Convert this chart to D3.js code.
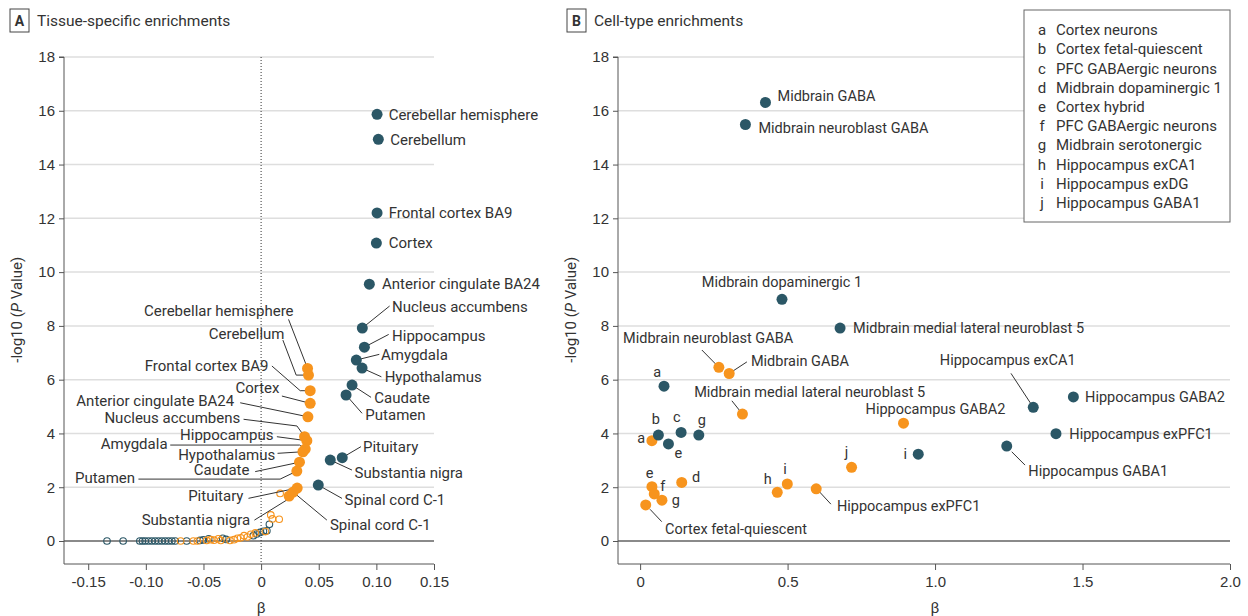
<!DOCTYPE html>
<html>
<head>
<meta charset="utf-8">
<script src="https://cdn.jsdelivr.net/npm/d3@7"></script>
<style>
	body { margin: 0; background: #fff; }
	svg { font-family: Roboto, "Noto Sans", sans-serif; }
	text { fill: #333; }
</style>
</head>
<body>
<svg id="chart" width="1248" height="616"></svg>
<script>
// ---- data ----
const yTicks = [0, 2, 4, 6, 8, 10, 12, 14, 16, 18];
const xTicksA = [-0.15, -0.10, -0.05, 0, 0.05, 0.10, 0.15];
const xTicksB = [0, 0.5, 1.0, 1.5, 2.0];

const tissueNames = ["Cerebellar hemisphere", "Cerebellum", "Frontal cortex BA9", "Cortex",
	"Anterior cingulate BA24", "Nucleus accumbens", "Hippocampus", "Amygdala", "Hypothalamus",
	"Caudate", "Putamen", "Pituitary", "Substantia nigra", "Spinal cord C-1"];
const tissueBetaDark = [0.1006, 0.1017, 0.1006, 0.1000, 0.0939, 0.0878, 0.0896, 0.0826, 0.0876, 0.0789, 0.0737, 0.0704, 0.0600, 0.0496];
const tissueLogPDark = [15.87, 14.94, 12.20, 11.08, 9.55, 7.92, 7.21, 6.73, 6.43, 5.80, 5.43, 3.10, 3.01, 2.08];
const tissueBetaOrange = [0.0403, 0.0411, 0.0426, 0.0426, 0.0406, 0.0377, 0.0397, 0.0383, 0.0363, 0.0333, 0.0310, 0.0313, 0.0243, 0.0278];
const tissueLogPOrange = [6.42, 6.17, 5.59, 5.12, 4.62, 3.88, 3.73, 3.42, 3.32, 2.93, 2.60, 1.97, 1.67, 1.82];

// non-significant tissues (open circles)
const openBetaDark = [-0.1337, -0.1197, -0.1052, -0.1029, -0.1006, -0.0977, -0.0948, -0.0919, -0.0890, -0.0861, -0.0832, -0.0803, -0.0774, -0.0745, -0.0646, -0.0530, -0.0501, -0.0455, -0.0333, -0.0304, -0.0067, -0.0038, -0.0009, 0.0020, 0.0050, 0.0072];
const openLogPDark = [0, 0, 0, 0, 0, 0, 0, 0, 0, 0, 0, 0, 0, 0, 0, 0.02, 0.04, 0.08, 0.10, 0.06, 0.20, 0.26, 0.32, 0.36, 0.38, 0.62];
const openBetaOrange = [-0.0698, -0.0588, -0.0553, -0.0472, -0.0437, -0.0409, -0.0371, -0.0350, -0.0270, -0.0235, -0.0206, -0.0177, -0.0148, -0.0119, -0.0090, -0.0050, 0.0037, 0.0084, 0.0098, 0.0157, 0.0165];
const openLogPOrange = [0, 0, 0, 0.02, 0.05, 0.03, 0.08, 0.02, 0.02, 0.05, 0.10, 0.12, 0.20, 0.15, 0.25, 0.30, 0.35, 0.97, 0.82, 0.81, 1.77];

const cellNamesDark = ["Midbrain GABA", "Midbrain neuroblast GABA", "Midbrain dopaminergic 1",
	"Midbrain medial lateral neuroblast 5", "a", "b", "c", "e", "g", "i",
	"Hippocampus exCA1", "Hippocampus GABA2", "Hippocampus exPFC1", "Hippocampus GABA1"];
const cellBetaDark = [0.425, 0.357, 0.481, 0.678, 0.081, 0.062, 0.139, 0.096, 0.199, 0.943, 1.333, 1.469, 1.410, 1.243];
const cellLogPDark = [16.31, 15.49, 8.99, 7.92, 5.76, 3.94, 4.04, 3.61, 3.94, 3.23, 4.97, 5.36, 3.99, 3.53];

const cellNamesOrange = ["Midbrain neuroblast GABA", "Midbrain GABA", "Midbrain medial lateral neuroblast 5",
	"Hippocampus GABA2", "a", "e", "f", "g", "d", "Cortex fetal-quiescent", "h", "i", "j", "Hippocampus exPFC1"];
const cellBetaOrange = [0.267, 0.302, 0.347, 0.893, 0.040, 0.040, 0.048, 0.074, 0.141, 0.019, 0.465, 0.499, 0.717, 0.597];
const cellLogPOrange = [6.46, 6.23, 4.72, 4.38, 3.73, 2.02, 1.75, 1.52, 2.18, 1.34, 1.81, 2.12, 2.74, 1.94];

const legendLetters = ["a", "b", "c", "d", "e", "f", "g", "h", "i", "j"];
const legendNames = ["Cortex neurons", "Cortex fetal-quiescent", "PFC GABAergic neurons",
	"Midbrain dopaminergic 1", "Cortex hybrid", "PFC GABAergic neurons", "Midbrain serotonergic",
	"Hippocampus exCA1", "Hippocampus exDG", "Hippocampus GABA1"];

// ---- label placement (pixel offsets from the point) ----
const layoutADark = [
	{ dx: 11.6, dy: 0, a: "start" }, { dx: 12, dy: 0, a: "start" }, { dx: 11.6, dy: 0, a: "start" },
	{ dx: 12.3, dy: 0, a: "start" }, { dx: 12.7, dy: 0, a: "start" },
	{ dx: 29.7, dy: -21.3, a: "start", l: [[0, 0], [27.3, -22]] },
	{ dx: 27.7, dy: -11, a: "start", l: [[0, 0], [24.3, -12.7]] },
	{ dx: 24.7, dy: -5, a: "start", l: [[0, 0], [23, -5.7]] },
	{ dx: 22.6, dy: 8.7, a: "start", l: [[0, 0], [19.3, 8.7]] },
	{ dx: 22.3, dy: 12.3, a: "start", l: [[0, 0], [19, 12.3]] },
	{ dx: 19.3, dy: 20, a: "start", l: [[0, 0], [16, 18.3]] },
	{ dx: 20.7, dy: -11, a: "start", l: [[0, 0], [18.7, -11]] },
	{ dx: 24.3, dy: 12.7, a: "start", l: [[0, 0], [21.7, 10]] },
	{ dx: 26.3, dy: 15, a: "start", l: [[0, 0], [23.7, 13.3]] }
];
const layoutAOrange = [
	{ dx: -14, dy: -57.6, a: "end", l: [[-19, -49], [0, 0]] },
	{ dx: -24, dy: -41.7, a: "end", l: [[-25.6, -35], [-12.3, 0], [0, 0]] },
	{ dx: -41.7, dy: -24.7, a: "end", l: [[-38.3, -24.7], [-10, 0], [0, 0]] },
	{ dx: -30.7, dy: -15.6, a: "end", l: [[-28.3, -7.3], [0, 0]] },
	{ dx: -73.7, dy: -15.7, a: "end", l: [[-67.7, -14], [0, 0]] },
	{ dx: -64.3, dy: -19, a: "end", l: [[-61, -17.4], [-7.6, -10.7], [0, 0]] },
	{ dx: -33.4, dy: -5.7, a: "end", l: [[-30, -4], [0, 0]] },
	{ dx: -137.7, dy: -5.7, a: "end", l: [[-135, -4], [-5.7, -4], [0, 0]] },
	{ dx: -27.7, dy: 2.6, a: "end", l: [[-25.4, 1.6], [0, 0]] },
	{ dx: -50, dy: 8, a: "end", l: [[-44.3, 9.4], [0, 0]] },
	{ dx: -161.7, dy: 6.3, a: "end", l: [[-158.4, 8], [-16.7, 8], [0, 0]] },
	{ dx: -53.7, dy: 8, a: "end", l: [[-48.7, 10.3], [0, 0]] },
	{ dx: -39, dy: 24, a: "end", l: [[-34.7, 24], [4, 0]] },
	{ dx: 36.8, dy: 32.3, a: "start", l: [[33.7, 28], [0, 0]] }
];
const layoutBDark = [
	{ dx: 12, dy: -6.6, a: "start" }, { dx: 13, dy: 3.4, a: "start" },
	{ dx: 0, dy: -17, a: "middle" }, { dx: 13, dy: 0, a: "start" },
	{ dx: -6.7, dy: -14.3, a: "middle" }, { dx: -2.6, dy: -15.7, a: "middle" },
	{ dx: -4.3, dy: -15, a: "middle" }, { dx: 10, dy: 9.3, a: "middle" },
	{ dx: 3, dy: -15, a: "middle" }, { dx: -13, dy: 0, a: "middle" },
	{ dx: -25.6, dy: -47.3, a: "middle", l: [[-22.3, -34], [0, 0]] },
	{ dx: 11.7, dy: 0, a: "start" }, { dx: 13.3, dy: 0, a: "start" },
	{ dx: 21.6, dy: 24.7, a: "start", l: [[5, 5.7], [18.3, 19]] }
];
const layoutBOrange = [
	{ dx: -10.7, dy: -29.3, a: "middle", l: [[-17, -17.3], [0, 0]] },
	{ dx: 21.7, dy: -12.6, a: "start", l: [[0, 0], [17.7, -11.6]] },
	{ dx: -48.3, dy: -21.7, a: "start", l: [[-10.6, -13.3], [0, 0]] },
	{ dx: 32, dy: -14, a: "middle" },
	{ dx: -10.7, dy: -2.4, a: "middle" }, { dx: -2.4, dy: -13.4, a: "middle" },
	{ dx: 8.4, dy: -8.3, a: "middle" }, { dx: 14, dy: 0, a: "middle" },
	{ dx: 14.3, dy: -5.6, a: "middle" },
	{ dx: 19.3, dy: 24, a: "start", l: [[4.3, 4.3], [16, 16.7]] },
	{ dx: -9.6, dy: -13, a: "middle" }, { dx: -2.3, dy: -14.7, a: "middle" },
	{ dx: -5, dy: -15.6, a: "middle" },
	{ dx: 20.7, dy: 17, a: "start", l: [[3.3, 3], [14.7, 15.3]] }
];

const dark = "#2b5766";
const orange = "#f7941d";
const fontSize = 15;

const svg = d3.select("#chart");
const y = d3.scaleLinear().domain([-0.855, 18]).range([564, 57]);

function zip(names, xs, ys, layout) {
	return xs.map((b, i) => ({ name: names ? names[i] : null, beta: b, p: ys[i], lay: layout ? layout[i] : null }));
}

function drawPanel(opts) {
	const x = opts.x;
	const [x0, x1] = x.range();
	const g = svg.append("g");

	// panel title
	g.append("rect").attr("x", opts.boxX).attr("y", 9).attr("width", 19).attr("height", 23)
		.attr("fill", "none").attr("stroke", "#444").attr("stroke-width", 1);
	g.append("text").attr("x", opts.boxX + 9.5).attr("y", 26).attr("text-anchor", "middle")
		.attr("font-size", 14).attr("font-weight", "bold").text(opts.letter);
	g.append("text").attr("x", opts.boxX + 27).attr("y", 26).attr("font-size", 15.5).text(opts.title);

	// grid
	g.selectAll(".grid").data(yTicks.filter(d => d !== 0)).join("line")
		.attr("x1", x0).attr("x2", x1).attr("y1", d => y(d)).attr("y2", d => y(d))
		.attr("stroke", "#dedede").attr("stroke-width", 1.5);
	g.append("line").attr("x1", x0).attr("x2", x1).attr("y1", y(0)).attr("y2", y(0))
		.attr("stroke", "#8a8a8a").attr("stroke-width", 2);

	if (opts.zeroLine) {
		g.append("line").attr("x1", x(0)).attr("x2", x(0)).attr("y1", y(18)).attr("y2", y.range()[0])
			.attr("stroke", "#333").attr("stroke-width", 1).attr("stroke-dasharray", "1,2");
	}

	// axes
	const yAxis = d3.axisLeft(y).tickValues(yTicks).tickSize(5).tickPadding(4).tickFormat(d3.format("d"));
	const ya = g.append("g").attr("transform", `translate(${x0},0)`).call(yAxis);
	ya.select(".domain").attr("d", `M-5,${y(18)}H0V${y.range()[0]}`);

	const xAxis = d3.axisBottom(x).tickValues(opts.ticks).tickSize(6).tickPadding(6).tickFormat(opts.fmt);
	const xa = g.append("g").attr("transform", `translate(0,${y.range()[0]})`).call(xAxis);
	xa.select(".domain").attr("d", `M${x0},0H${x1}`);
	g.selectAll(".domain, .tick line").attr("stroke", "#555");
	g.selectAll(".tick text").attr("font-size", fontSize).attr("fill", "#333").attr("font-family", null);

	// axis titles
	const midTick = (x(opts.ticks[0]) + x(opts.ticks[opts.ticks.length - 1])) / 2;
	g.append("text").attr("x", midTick).attr("y", 613).attr("text-anchor", "middle")
		.attr("font-size", fontSize).text("β");
	const yt = g.append("text").attr("transform", `translate(${x0 - 42},${y(8.6)}) rotate(-90)`)
		.attr("text-anchor", "middle").attr("font-size", fontSize);
	yt.append("tspan").text("-log10 (");
	yt.append("tspan").attr("font-style", "italic").text("P");
	yt.append("tspan").text(" Value)");

	// open circles
	(opts.open || []).forEach(s => {
		g.append("g").selectAll("circle").data(s.pts).join("circle")
			.attr("cx", d => x(d.beta)).attr("cy", d => y(d.p)).attr("r", 3.3)
			.attr("fill", "none").attr("stroke", s.color).attr("stroke-width", 1.1);
	});

	// leaders, points, labels
	const line = d3.line();
	opts.filled.forEach(s => {
		g.append("g").selectAll("path").data(s.pts.filter(d => d.lay.l)).join("path")
			.attr("d", d => line(d.lay.l.map(([a, b]) => [x(d.beta) + a, y(d.p) + b])))
			.attr("fill", "none").attr("stroke", "#333").attr("stroke-width", 1);
	});
	opts.filled.forEach(s => {
		g.append("g").selectAll("circle").data(s.pts).join("circle")
			.attr("cx", d => x(d.beta)).attr("cy", d => y(d.p)).attr("r", 5.5)
			.attr("fill", s.color);
	});
	opts.filled.forEach(s => {
		g.append("g").selectAll("text").data(s.pts).join("text")
			.attr("x", d => x(d.beta) + d.lay.dx).attr("y", d => y(d.p) + d.lay.dy)
			.attr("dy", "0.35em").attr("text-anchor", d => d.lay.a)
			.attr("font-size", opts.labelSize).text(d => d.name);
	});
	return g;
}

drawPanel({
	x: d3.scaleLinear().domain([-0.171, 0.15]).range([64, 434]),
	ticks: xTicksA, fmt: d => d === 0 ? "0" : d.toFixed(2),
	boxX: 10, letter: "A", title: "Tissue-specific enrichments", zeroLine: true, labelSize: 15,
	open: [
		{ color: dark, pts: zip(null, openBetaDark, openLogPDark) },
		{ color: orange, pts: zip(null, openBetaOrange, openLogPOrange) }
	],
	filled: [
		{ color: orange, pts: zip(tissueNames, tissueBetaOrange, tissueLogPOrange, layoutAOrange) },
		{ color: dark, pts: zip(tissueNames, tissueBetaDark, tissueLogPDark, layoutADark) }
	]
});

drawPanel({
	x: d3.scaleLinear().domain([-0.075, 2.0]).range([618, 1230]),
	ticks: xTicksB, fmt: d => d === 0 ? "0" : d.toFixed(1),
	boxX: 567, letter: "B", title: "Cell-type enrichments", zeroLine: false, labelSize: 14.5,
	filled: [
		{ color: orange, pts: zip(cellNamesOrange, cellBetaOrange, cellLogPOrange, layoutBOrange) },
		{ color: dark, pts: zip(cellNamesDark, cellBetaDark, cellLogPDark, layoutBDark) }
	]
});

// legend
const legend = svg.append("g").attr("transform", "translate(1024,10)");
legend.append("rect").attr("width", 206).attr("height", 212)
	.attr("fill", "#fff").attr("stroke", "#666").attr("stroke-width", 1);
const items = legend.selectAll("g.item").data(legendLetters).join("g")
	.attr("transform", (d, i) => `translate(0,${20 + i * 19.2})`);
items.append("text").attr("x", 18).attr("dy", "0.35em").attr("text-anchor", "middle")
	.attr("font-size", fontSize).text(d => d);
items.append("text").attr("x", 32).attr("dy", "0.35em")
	.attr("font-size", fontSize).text((d, i) => legendNames[i]);
</script>
</body>
</html>
